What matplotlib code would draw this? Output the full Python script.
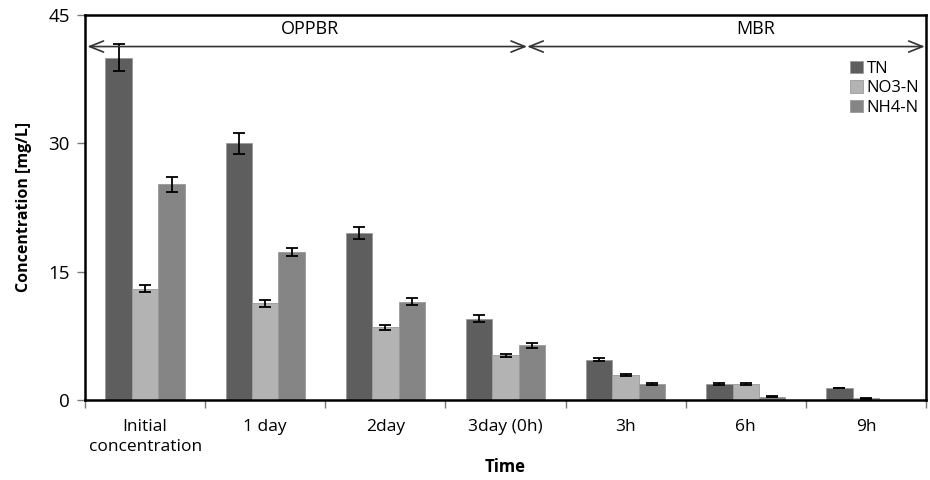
import numpy as np
import matplotlib.pyplot as plt

plt.rcParams['font.family'] = ['Open Sans', 'DejaVu Sans']

# Data
categories = ['Initial\nconcentration', '1 day', '2day', '3day (0h)', '3h', '6h', '9h']
tn = [40.0, 30.0, 19.5, 9.5, 4.7, 1.9, 1.4]
tn_err = [1.6, 1.2, 0.7, 0.4, 0.2, 0.1, 0.05]
no3 = [13.0, 11.3, 8.5, 5.2, 2.9, 1.9, 0.2]
no3_err = [0.4, 0.4, 0.3, 0.2, 0.1, 0.1, 0.05]
nh4 = [25.2, 17.3, 11.5, 6.4, 1.9, 0.4, 0.0]
nh4_err = [0.9, 0.5, 0.4, 0.3, 0.1, 0.05, np.nan]

series = [('TN', tn, tn_err, '#5e5e5e'),
          ('NO3-N', no3, no3_err, '#b3b3b3'),
          ('NH4-N', nh4, nh4_err, '#858585')]

fig = plt.figure(figsize=(9.3, 4.8), dpi=100)
ax = fig.add_axes([0.0914, 0.1667, 0.9043, 0.8023])

x = np.arange(len(categories))
w = 0.22
for i, (name, vals, errs, col) in enumerate(series):
    ax.bar(x + (i - 1) * w, vals, w, color=col, edgecolor='#9a9a9a', linewidth=0.6,
           label=name, yerr=errs, capsize=4,
           error_kw=dict(ecolor='black', elinewidth=1.3, capthick=1.3))

ax.set_xlim(-0.5, len(categories) - 0.5)
ax.set_ylim(0, 45)
ax.set_yticks([0, 15, 30, 45])
ax.set_xticks(x)
ax.set_xticklabels(categories, fontsize=12.5, linespacing=1.3)
ax.tick_params(axis='x', which='major', length=0, pad=14)
ax.set_xticks(np.arange(-0.5, len(categories), 1), minor=True)
ax.tick_params(axis='x', which='minor', length=6, width=1, color='#777777')
ax.tick_params(axis='y', length=6, width=1, color='#777777', labelsize=13.5, pad=5)

for s in ax.spines.values():
    s.set_linewidth(1.8)
    s.set_color('black')

ax.set_xlabel('Time', fontsize=12, fontweight='bold', labelpad=2)
ax.set_ylabel('Concentration [mg/L]', fontsize=11.5, fontweight='bold', labelpad=12)

# OPPBR / MBR phase arrows
split = 3.18
ya = 41.3
arrow = dict(arrowstyle='<->,head_length=1.0,head_width=0.4', color='#333333', lw=1.2,
             shrinkA=0, shrinkB=0)
ax.annotate('', xy=(-0.48, ya), xytext=(split, ya), arrowprops=arrow)
ax.annotate('', xy=(split, ya), xytext=(6.49, ya), arrowprops=arrow)
ax.text(1.37, 43.3, 'OPPBR', ha='center', va='center', fontsize=13)
ax.text(5.08, 43.3, 'MBR', ha='center', va='center', fontsize=13)

ax.legend(loc='upper right', bbox_to_anchor=(1.01, 0.92), frameon=False, fontsize=12,
          handlelength=0.8, handleheight=0.8, handletextpad=0.2, labelspacing=0.2)

fig.savefig('out.png', dpi=100)
